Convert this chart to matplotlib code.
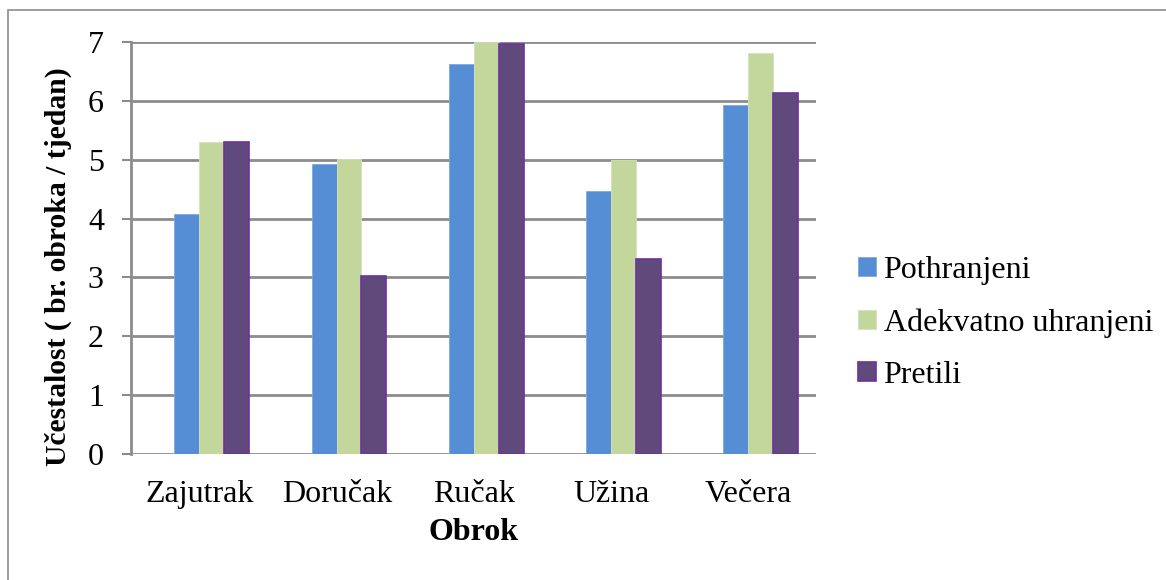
import numpy as np
import matplotlib
matplotlib.use("Agg")
import matplotlib.pyplot as plt
from matplotlib.patches import Rectangle
from matplotlib.transforms import ScaledTranslation

categories = ["Zajutrak", "Doručak", "Ručak", "Užina", "Večera"]
series_names = ["Pothranjeni", "Adekvatno uhranjeni", "Pretili"]
pothranjeni = [4.08, 4.93, 6.62, 4.46, 5.93]
adekvatno = [5.30, 5.01, 7.00, 5.00, 6.81]
pretili = [5.30, 3.02, 6.96, 3.31, 6.14]
yticks = [0, 1, 2, 3, 4, 5, 6, 7]

plt.rcParams['font.family'] = ['Liberation Serif', 'DejaVu Serif']

W, H = 1166, 580
fig = plt.figure(figsize=(W / 100, H / 100), dpi=100)
# outer chart frame
fig.patches.append(Rectangle((8 / W, -0.01), 1.1, 1 - 10 / H + 0.01,
                             transform=fig.transFigure, fill=False,
                             edgecolor='#8c8c8c', linewidth=1.2))

ax = fig.add_axes([131 / W, 1 - 454 / H, (816 - 131) / W, 412 / H])

x = np.arange(len(categories))
w = 0.182
ax.bar(x - w, pothranjeni, w, color='#558ED5', edgecolor='#7fa9e0', linewidth=0.6,
       label=series_names[0], zorder=3)
ax.bar(x, adekvatno, w, color='#C3D69B', edgecolor='#d5e3b8', linewidth=0.6,
       label=series_names[1], zorder=3)
ax.bar(x + w, pretili, w, color='#604A7B', edgecolor='#7030A0', linewidth=1.2,
       label=series_names[2], zorder=3)

ax.set_xlim(-0.589, 4.404)
ax.set_ylim(0, 7)
ax.set_yticks(yticks)
ax.set_xticks(x)
ax.set_xticklabels(categories)
ax.tick_params(axis='x', length=0, labelsize=23, pad=19)
ax.tick_params(axis='y', length=6.5, width=1.5, color='#8c8c8c', labelsize=23, pad=13)
# category labels sit a little left of the bar groups, like in the original
shift = ScaledTranslation(-12 / 100, 0, fig.dpi_scale_trans)
for lbl in ax.get_xticklabels():
    lbl.set_transform(lbl.get_transform() + shift)
ax.yaxis.grid(True, color='#8c8c8c', linewidth=2, zorder=0)
for s in ['top', 'right', 'bottom']:
    ax.spines[s].set_visible(False)
ax.spines['left'].set_color('#8c8c8c')
ax.spines['left'].set_linewidth(2)
ax.set_axisbelow(True)

ax.set_xlabel("Obrok", fontsize=23, fontweight='bold', labelpad=6)
ax.set_ylabel("Učestalost ( br. obroka / tjedan)", fontsize=21.3, fontweight='bold')
ax.yaxis.set_label_coords(-0.086, 0.454)

fig.legend(loc='center left', bbox_to_anchor=(858 / W, 1 - 323 / H), frameon=False,
           fontsize=23, handlelength=0.55, handleheight=0.55, handletextpad=0.25,
           labelspacing=0.73, borderpad=0, borderaxespad=0)

fig.savefig("out.png", dpi=100)
